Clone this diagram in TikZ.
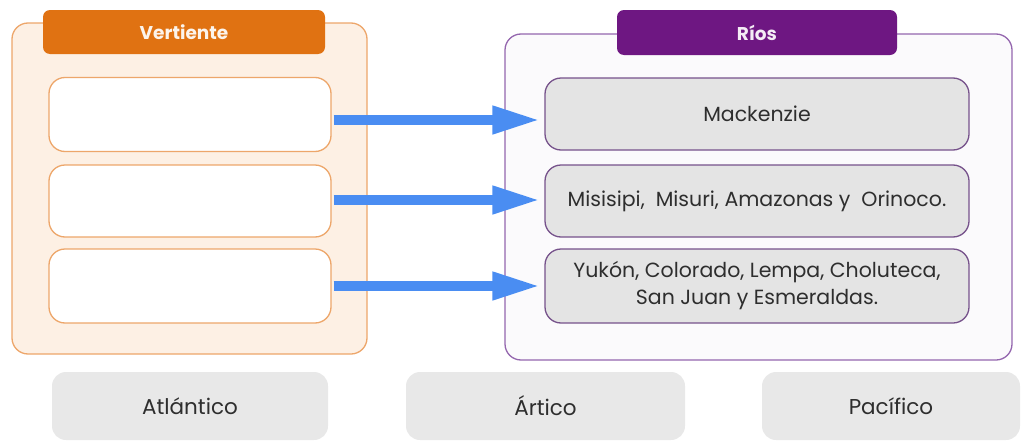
\documentclass[tikz,border=0pt]{standalone}
\usepackage{fontspec}
\setmainfont{Poppins}
\usetikzlibrary{arrows.meta}
\definecolor{orhead}{HTML}{E07212}
\definecolor{orline}{HTML}{EDA66A}
\definecolor{orfill}{HTML}{FDF0E4}
\definecolor{puhead}{HTML}{6E1782}
\definecolor{puline}{HTML}{9466AE}
\definecolor{pufill}{HTML}{FBFAFC}
\definecolor{boxgray}{HTML}{E4E4E4}
\definecolor{botgray}{HTML}{E8E8E8}
\definecolor{txt}{HTML}{2E2E2E}
\definecolor{arrowblue}{HTML}{4A8DF2}
\tikzset{
  px/.style={x=1pt,y=-1pt},
  outerL/.style={draw=orline, fill=orfill, line width=1.3pt, rounded corners=16pt},
  outerR/.style={draw=puline, fill=pufill, line width=1.3pt, rounded corners=16pt},
  headL/.style={fill=orhead, rounded corners=7pt, text=white!92!orhead, font=\fontsize{18.5}{22}\selectfont\bfseries},
  headR/.style={fill=puhead, rounded corners=7pt, text=white!92!puhead, font=\fontsize{18.5}{22}\selectfont\bfseries},
  leftbox/.style={draw=orline, fill=white, line width=1.3pt, rounded corners=16pt},
  rightbox/.style={draw=puline!80!black, fill=boxgray, line width=1.3pt, rounded corners=16pt, text=txt, align=center, font=\fontsize{20.5}{27}\selectfont},
  botbox/.style={fill=botgray, rounded corners=14pt, text=txt, font=\fontsize{21.5}{24}\selectfont},
  conn/.style={draw=arrowblue, line width=10pt, -{Triangle[length=48pt,width=26pt]}, shorten <=2pt, shorten >=4pt},
}
\begin{document}
\begin{tikzpicture}[px]
\useasboundingbox (0,0) rectangle (1029,442);
% left column
\draw[outerL] (12,23) rectangle (367,354);
\node[headL, minimum width=282pt, minimum height=44pt] (hL) at (184,32) {Vertiente};
\node[leftbox, minimum width=282pt, minimum height=74pt] (l1) at (190,114.5) {};
\node[leftbox, minimum width=282pt, minimum height=72pt] (l2) at (190,201) {};
\node[leftbox, minimum width=282pt, minimum height=74pt] (l3) at (190,286) {};
% right column
\draw[outerR] (505,34) rectangle (1012,360);
\node[headR, minimum width=280pt, minimum height=45pt] (hR) at (757,32.5) {Ríos};
\node[rightbox, minimum width=424pt, minimum height=72pt] (r1) at (757,114) {Mackenzie};
\node[rightbox, minimum width=424pt, minimum height=72pt] (r2) at (757,201) {Misisipi,\ \ Misuri, Amazonas y\ \ Orinoco.};
\node[rightbox, minimum width=424pt, minimum height=74pt] (r3) at (757,286) {Yukón, Colorado, Lempa, Choluteca,\\San Juan y Esmeraldas.};
% arrows
\draw[conn] (l1.east |- 0,120) -- (r1.west |- 0,120);
\draw[conn] (l2.east |- 0,200) -- (r2.west |- 0,200);
\draw[conn] (l3.east |- 0,286) -- (r3.west |- 0,286);
% bottom options
\node[botbox, minimum width=276pt, minimum height=68pt] (b1) at (190,406) {Atlántico};
\node[botbox, minimum width=279pt, minimum height=68pt] (b2) at (545.5,406) {Ártico};
\node[botbox, minimum width=258pt, minimum height=68pt] (b3) at (891,406) {Pacífico};
\end{tikzpicture}
\end{document}
